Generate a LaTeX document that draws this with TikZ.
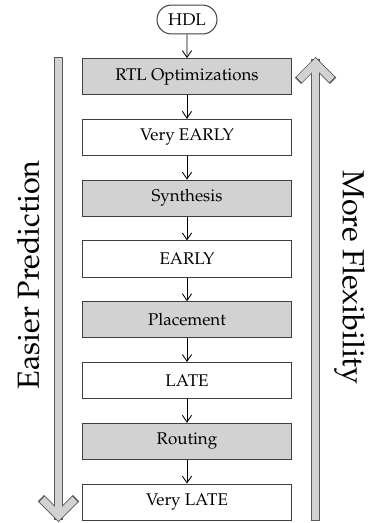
\documentclass[tikz,border=0pt]{standalone}
\usepackage[T1]{fontenc}
\usepackage{mathpazo}
\usetikzlibrary{positioning}
\usetikzlibrary{shapes.misc}
\usetikzlibrary{arrows.meta, calc}

\tikzset{
  flow/.style={draw=black!75,line width=0.6pt,minimum width=4.32cm,minimum height=0.75cm,inner sep=0pt},
  toolstep/.style={flow,fill=gray!35},
  estimate/.style={flow,fill=white},
  link/.style={black,line width=0.5pt,-{Straight Barb[length=4pt,width=5.5pt]}},
  % wide side arrows: dark rim first, light core on top
  rim/.style={draw=black!65,line width=5.3pt,line cap=rect,line join=miter},
  core/.style={draw=gray!35,line width=4.3pt,line cap=rect,line join=miter}
}

\begin{document}
\begin{tikzpicture}[node distance=0.49cm]
\useasboundingbox (0,0) rectangle (7.802,10.852);

\node[rounded rectangle,draw=black!75,line width=0.6pt,minimum width=1.245cm,minimum height=0.6cm,inner sep=0pt] (hdl) at (3.88,10.447) {HDL};
\node[toolstep] (rtl) [below=of hdl] {RTL Optimizations};
\node[estimate] (vearly) [below=of rtl] {Very EARLY};
\node[toolstep] (syn) [below=of vearly] {Synthesis};
\node[estimate] (early) [below=of syn] {EARLY};
\node[toolstep] (place) [below=of early] {Placement};
\node[estimate] (late) [below=of place] {LATE};
\node[toolstep] (route) [below=of late] {Routing};
\node[estimate] (vlate) [below=of route] {Very LATE};

\draw[link] (hdl) -- (rtl);
\draw[link] (rtl) -- (vearly);
\draw[link] (vearly) -- (syn);
\draw[link] (syn) -- (early);
\draw[link] (early) -- (place);
\draw[link] (place) -- (late);
\draw[link] (late) -- (route);
\draw[link] (route) -- (vlate);

% side arrows
\coordinate (pred top) at (1.214,9.577);
\coordinate (pred tip) at (1.214,0.152);
\coordinate (flex start) at (6.547,0.135);
\coordinate (flex tip) at (6.547,9.538);

\draw[rim] (pred top) -- (pred tip);
\draw[rim] ($(pred tip)+(-8.5pt,8.5pt)$) -- (pred tip) -- ++(8.5pt,8.5pt);
\draw[rim] (flex start) -- (flex tip);
\draw[rim] ($(flex tip)+(-8.5pt,-8.5pt)$) -- (flex tip) -- ++(8.5pt,-8.5pt);

\draw[core,shorten >=2pt] (pred top) -- (pred tip);
\draw[core,shorten <=0.5pt,shorten >=0.5pt] ($(pred tip)+(-8.5pt,8.5pt)$) -- (pred tip) -- ++(8.5pt,8.5pt);
\draw[core,shorten >=2pt] (flex start) -- (flex tip);
\draw[core,shorten <=0.5pt,shorten >=0.5pt] ($(flex tip)+(-8.5pt,-8.5pt)$) -- (flex tip) -- ++(8.5pt,-8.5pt);

\node[rotate=90,anchor=base,font=\fontsize{18}{22}\selectfont] (pred) at (0.809,5.15) {Easier Prediction};
\node[rotate=-90,anchor=base,font=\fontsize{18}{22}\selectfont] (flex) at (7.117,5.094) {More Flexibility};

\end{tikzpicture}
\end{document}
